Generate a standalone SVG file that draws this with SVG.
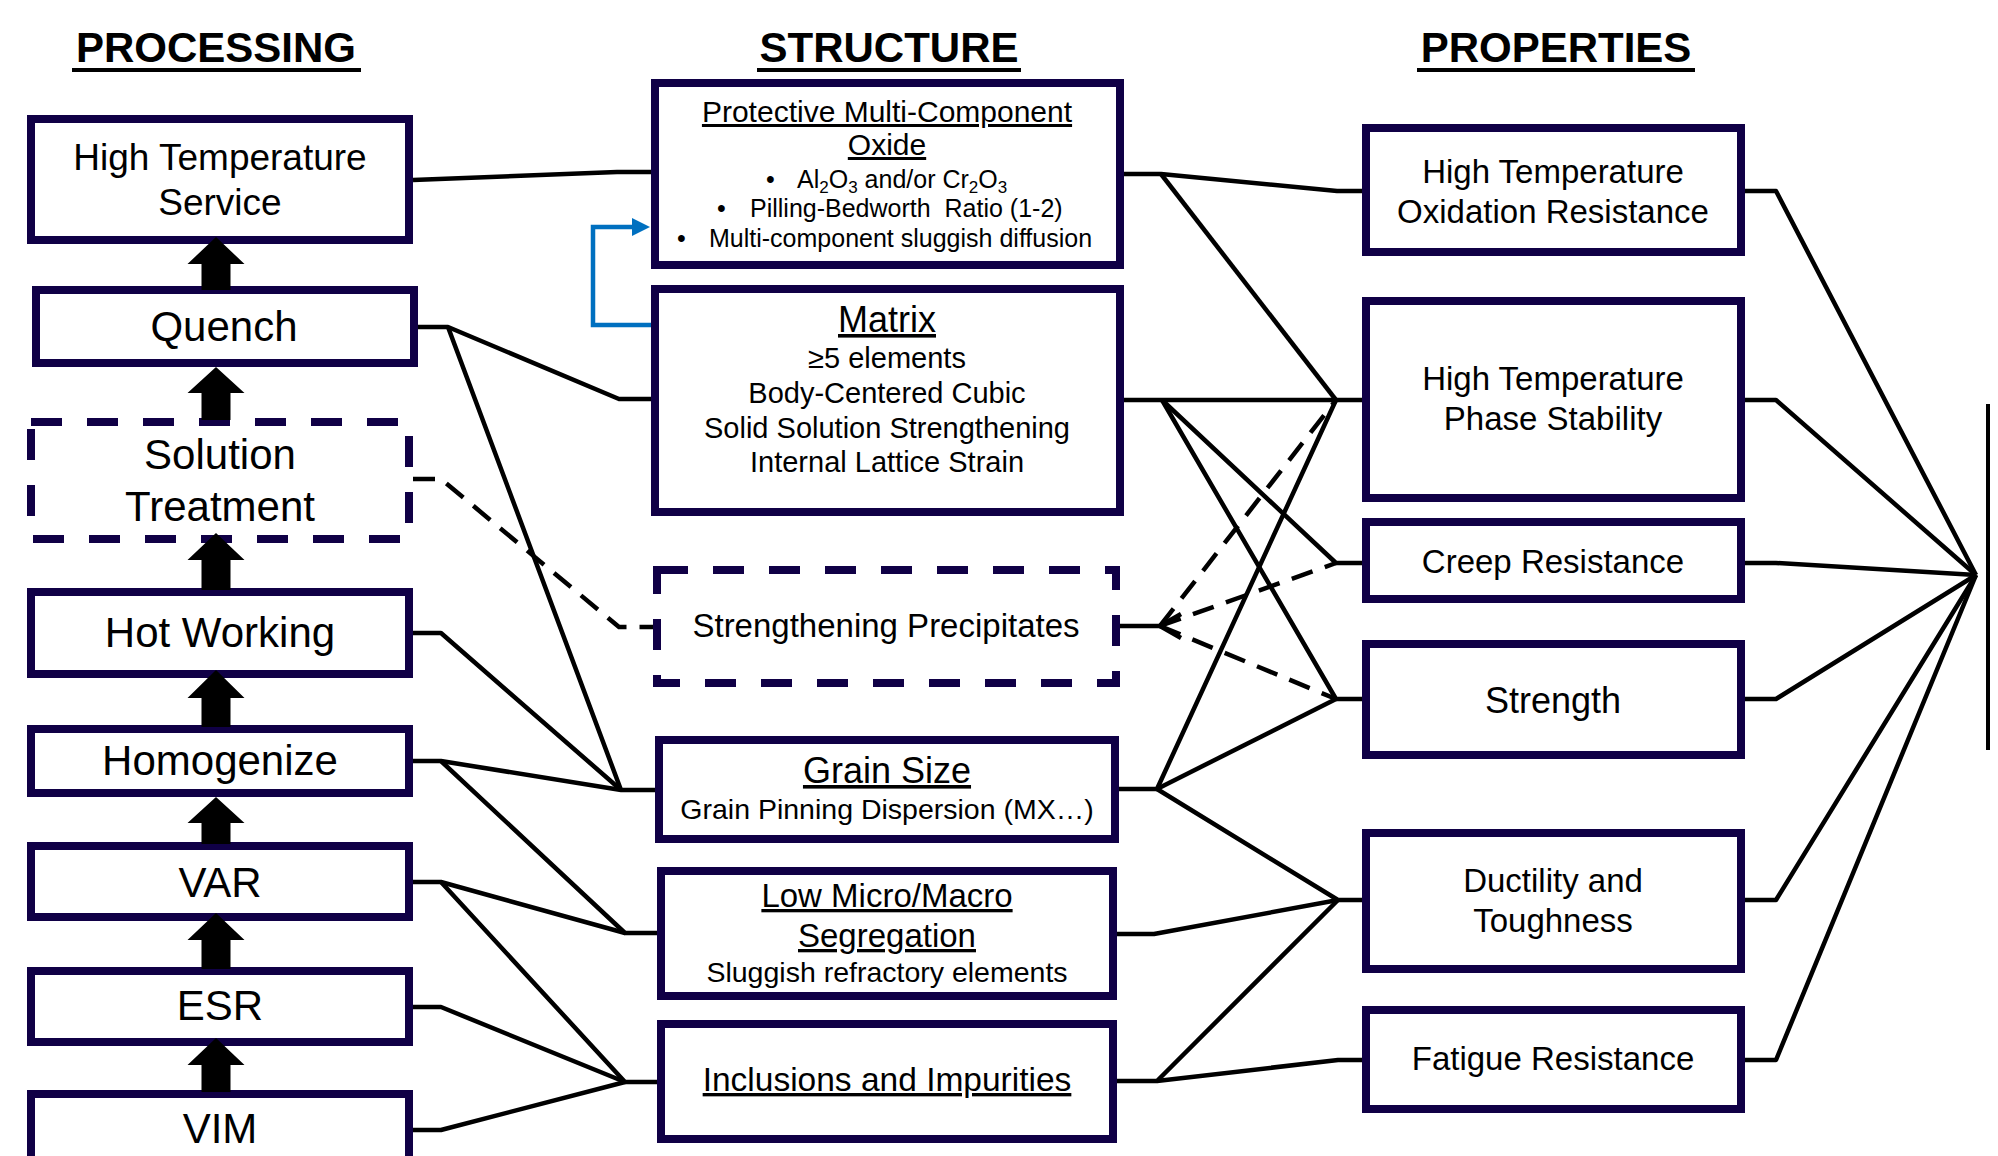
<svg xmlns="http://www.w3.org/2000/svg" width="1998" height="1156" viewBox="0 0 1998 1156">
<style>
.box{fill:#fff;stroke:#100046;stroke-width:8}
.dbox{fill:#fff;stroke:#100046;stroke-width:8;stroke-dasharray:31 25}
.t{font-family:"Liberation Sans",Arial,sans-serif;fill:#000;text-anchor:middle}
.p{font-size:42px}
.s{font-size:29px}
.b{font-size:25px;text-anchor:start}
.pr{font-size:33px}
.u{text-decoration:underline}
.h{font-family:"Liberation Sans",Arial,sans-serif;font-weight:bold;font-size:42px;text-anchor:middle}
.ln{fill:none;stroke:#000;stroke-width:4.5;stroke-linejoin:round}
.dl{fill:none;stroke:#000;stroke-width:4.5;stroke-dasharray:22 13}
.blk{fill:#000}
.blue{fill:none;stroke:#0070C0;stroke-width:4.5}
</style>
<rect width="1998" height="1156" fill="#fff"/>
<g id="headers">
<text class="h" x="216" y="62">PROCESSING</text>
<line x1="72" y1="70" x2="361" y2="70" stroke="#000" stroke-width="4"/>
<text class="h" x="889" y="62">STRUCTURE</text>
<line x1="757" y1="70" x2="1021" y2="70" stroke="#000" stroke-width="4"/>
<text class="h" x="1556" y="62">PROPERTIES</text>
<line x1="1417" y1="70" x2="1695" y2="70" stroke="#000" stroke-width="4"/>
</g>
<g id="hts"><rect class="box" x="31" y="119" width="378" height="121"/>
<text class="t" x="220" y="170" font-size="37">High Temperature</text><text class="t" x="220" y="215" font-size="37">Service</text></g>
<g id="quench"><rect class="box" x="36" y="290" width="378" height="73"/><text class="t p" x="224" y="341">Quench</text></g>
<g id="solution"><rect class="dbox" x="31" y="422" width="378" height="117"/><text class="t p" x="220" y="469">Solution</text><text class="t p" x="220" y="521">Treatment</text></g>
<g id="hotworking"><rect class="box" x="31" y="592" width="378" height="82"/><text class="t p" x="220" y="647">Hot Working</text></g>
<g id="homogenize"><rect class="box" x="31" y="729" width="378" height="64"/><text class="t p" x="220" y="775">Homogenize</text></g>
<g id="var"><rect class="box" x="31" y="846" width="378" height="71"/><text class="t p" x="220" y="897">VAR</text></g>
<g id="esr"><rect class="box" x="31" y="971" width="378" height="71"/><text class="t p" x="220" y="1020">ESR</text></g>
<g id="vim"><rect class="box" x="31" y="1094" width="378" height="90"/><text class="t p" x="220" y="1143">VIM</text></g>

<g id="oxide"><rect class="box" x="655" y="83" width="465" height="182"/>
<text class="t u" x="887" y="122" font-size="30">Protective Multi-Component</text>
<text class="t u" x="887" y="155" font-size="30">Oxide</text>
<text class="t b" x="766" y="188">•</text>
<text class="t b" x="797" y="188">Al<tspan dy="5" font-size="17">2</tspan><tspan dy="-5">O</tspan><tspan dy="5" font-size="17">3</tspan><tspan dy="-5"> and/or Cr</tspan><tspan dy="5" font-size="17">2</tspan><tspan dy="-5">O</tspan><tspan dy="5" font-size="17">3</tspan></text>
<text class="t b" x="717" y="217">•</text>
<text class="t b" x="750" y="217" xml:space="preserve">Pilling-Bedworth  Ratio (1-2)</text>
<text class="t b" x="677" y="247">•</text>
<text class="t b" x="709" y="247">Multi-component sluggish diffusion</text>
</g>
<g id="matrix"><rect class="box" x="655" y="289" width="465" height="223"/>
<text class="t u" x="887" y="332" font-size="36">Matrix</text>
<text class="t s" x="887" y="368">≥5 elements</text>
<text class="t s" x="887" y="403">Body-Centered Cubic</text>
<text class="t s" x="887" y="438">Solid Solution Strengthening</text>
<text class="t s" x="887" y="472">Internal Lattice Strain</text>
</g>
<g id="precipitates"><rect class="dbox" x="657" y="570" width="459" height="113"/>
<text class="t" x="886" y="637" font-size="33">Strengthening Precipitates</text></g>
<g id="grainsize"><rect class="box" x="659" y="740" width="456" height="99"/>
<text class="t u" x="887" y="783" font-size="36">Grain Size</text>
<text class="t" x="887" y="819" font-size="28.5">Grain Pinning Dispersion (MX…)</text></g>
<g id="segregation"><rect class="box" x="661" y="871" width="452" height="125"/>
<text class="t u" x="887" y="907" font-size="33">Low Micro/Macro</text>
<text class="t u" x="887" y="947" font-size="33">Segregation</text>
<text class="t" x="887" y="982" font-size="28.5">Sluggish refractory elements</text></g>
<g id="inclusions"><rect class="box" x="661" y="1024" width="452" height="115"/>
<text class="t u" x="887" y="1091" font-size="33.5">Inclusions and Impurities</text></g>

<g id="oxidation"><rect class="box" x="1366" y="128" width="375" height="124"/>
<text class="t pr" x="1553" y="183">High Temperature</text><text class="t pr" x="1553" y="223">Oxidation Resistance</text></g>
<g id="phase"><rect class="box" x="1366" y="301" width="375" height="197"/>
<text class="t pr" x="1553" y="390">High Temperature</text><text class="t pr" x="1553" y="430">Phase Stability</text></g>
<g id="creep"><rect class="box" x="1366" y="522" width="375" height="77"/>
<text class="t pr" x="1553" y="573">Creep Resistance</text></g>
<g id="strength"><rect class="box" x="1366" y="644" width="375" height="111"/>
<text class="t" x="1553" y="713" font-size="36">Strength</text></g>
<g id="ductility"><rect class="box" x="1366" y="833" width="375" height="136"/>
<text class="t pr" x="1553" y="892">Ductility and</text><text class="t pr" x="1553" y="932">Toughness</text></g>
<g id="fatigue"><rect class="box" x="1366" y="1010" width="375" height="99"/>
<text class="t pr" x="1553" y="1070">Fatigue Resistance</text></g>
<g id="performance"><line x1="1988" y1="404" x2="1988" y2="750" stroke="#000" stroke-width="4"/></g>

<g id="connectors">
<path class="blk" d="M216,237 L244.5,264 L230.5,264 L230.5,290 L201.5,290 L201.5,264 L187.5,264 Z"/>
<path class="blk" d="M216,367 L244.5,393 L230.5,393 L230.5,420 L201.5,420 L201.5,393 L187.5,393 Z"/>
<path class="blk" d="M216,533 L244.5,560 L230.5,560 L230.5,590 L201.5,590 L201.5,560 L187.5,560 Z"/>
<path class="blk" d="M216,670 L244.5,698 L230.5,698 L230.5,727 L201.5,727 L201.5,698 L187.5,698 Z"/>
<path class="blk" d="M216,797 L244.5,823 L230.5,823 L230.5,844 L201.5,844 L201.5,823 L187.5,823 Z"/>
<path class="blk" d="M216,913 L244.5,940 L230.5,940 L230.5,969 L201.5,969 L201.5,940 L187.5,940 Z"/>
<path class="blk" d="M216,1038 L244.5,1065 L230.5,1065 L230.5,1092 L201.5,1092 L201.5,1065 L187.5,1065 Z"/>

<polyline class="ln" points="413,180 617,172 651,172"/>
<polyline class="ln" points="418,327 448,327 619,399 651,399"/>
<polyline class="ln" points="448,327 621,790 655,790"/>
<polyline class="dl" points="413,479 441,479 619,627 653,627"/>
<polyline class="ln" points="413,633 441,633 621,790"/>
<polyline class="ln" points="413,761 441,761 621,790"/>
<polyline class="ln" points="441,761 625,933 657,933"/>
<polyline class="ln" points="413,882 441,882 625,933"/>
<polyline class="ln" points="441,882 625,1082 657,1082"/>
<polyline class="ln" points="413,1007 441,1007 625,1082"/>
<polyline class="ln" points="413,1130 441,1130 625,1082"/>

<polyline class="blue" points="651,325 593,325 593,227 634,227"/>
<polygon points="650,227 632,218 632,236" fill="#0070C0"/>

<polyline class="ln" points="1124,174 1161,174 1337,191 1362,191"/>
<polyline class="ln" points="1161,174 1336,400"/>
<polyline class="ln" points="1124,400 1362,400"/>
<polyline class="ln" points="1162,400 1336,563 1362,563"/>
<polyline class="ln" points="1162,400 1336,699 1362,699"/>
<polyline class="ln" points="1119,789 1157,789 1336,400"/>
<polyline class="ln" points="1157,789 1336,699"/>
<polyline class="ln" points="1157,789 1338,900 1362,900"/>
<polyline class="ln" points="1117,934 1154,934 1338,900"/>
<polyline class="ln" points="1117,1081 1157,1081 1338,900"/>
<polyline class="ln" points="1157,1081 1338,1060 1362,1060"/>

<polyline class="ln" points="1120,626 1160,626"/>
<polyline class="dl" points="1160,626 1336,400"/>
<polyline class="dl" points="1160,626 1336,563"/>
<polyline class="dl" points="1160,626 1336,699"/>
<polyline class="ln" points="1181,614 1160,626 1181,638"/>

<polyline class="ln" points="1745,191 1776,191 1976,575"/>
<polyline class="ln" points="1745,400 1776,400 1976,575"/>
<polyline class="ln" points="1745,563 1776,563 1976,575"/>
<polyline class="ln" points="1745,699 1776,699 1976,575"/>
<polyline class="ln" points="1745,900 1776,900 1976,575"/>
<polyline class="ln" points="1745,1060 1776,1060 1976,575"/>
</g>
</svg>
